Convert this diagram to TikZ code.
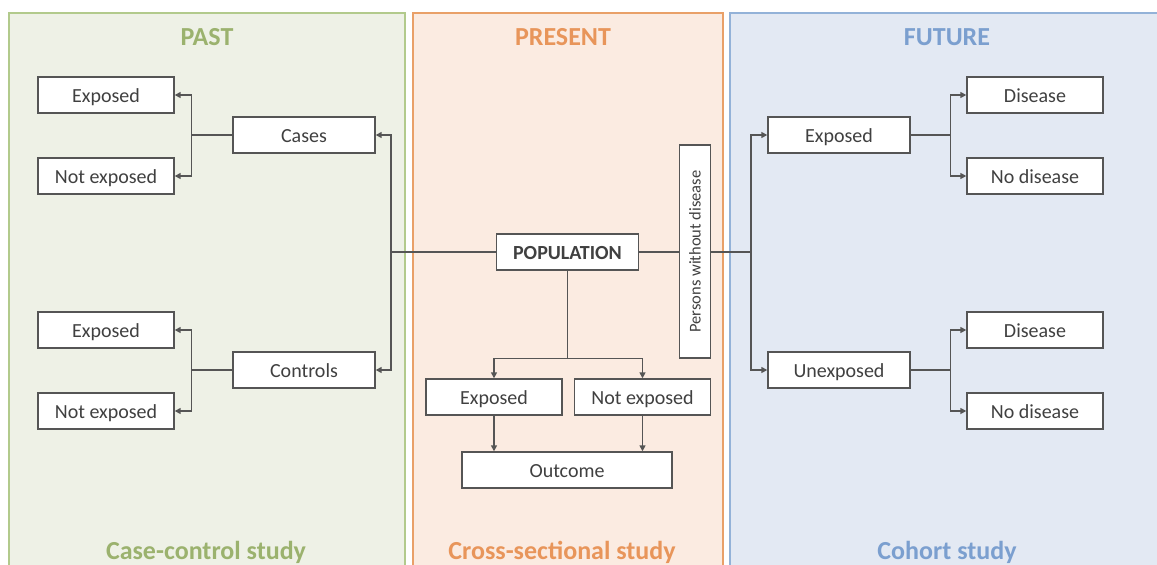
\documentclass[tikz,border=0pt]{standalone}
\usepackage{fontspec}
\setmainfont{Carlito}
\usetikzlibrary{arrows.meta,calc}
\definecolor{pastfill}{HTML}{EEF1E6}
\definecolor{pastline}{HTML}{B2CA8C}
\definecolor{pasttext}{HTML}{9BB26E}
\definecolor{presfill}{HTML}{FBEBE1}
\definecolor{presline}{HTML}{E9A068}
\definecolor{prestext}{HTML}{E8955A}
\definecolor{futfill}{HTML}{E3E9F3}
\definecolor{futline}{HTML}{93B2D8}
\definecolor{futtext}{HTML}{7B9FCF}
\definecolor{linec}{HTML}{555555}
\definecolor{textc}{HTML}{404040}
\tikzset{
  box/.style={draw=linec, fill=white, line width=1.4pt, minimum width=136pt,
    minimum height=36pt, inner sep=0pt, text height=14pt, text depth=0pt,
    font=\fontsize{20}{24}\selectfont, text=textc},
  widebox/.style={box, minimum width=142pt},
  conn/.style={draw=linec, line width=1.5pt},
  arr/.style={conn, -{Triangle[length=6pt,width=6pt]}},
  ttl/.style={font=\bfseries\fontsize{26}{30}\selectfont, anchor=base},
}
\begin{document}
\begin{tikzpicture}[x=1pt,y=-1pt]
\clip (0,0) rectangle (1157,565);
\fill[white] (0,0) rectangle (1157,565);
% panels
\draw[fill=pastfill, draw=pastline, line width=2pt] (9,13) rectangle (405,590);
\draw[fill=presfill, draw=presline, line width=2pt] (413,13) rectangle (723,590);
\draw[fill=futfill, draw=futline, line width=2pt] (730,13) rectangle (1170,590);
% titles
\node[ttl, text=pasttext] (tpast) at (207,45) {PAST};
\node[ttl, text=prestext] (tpres) at (563,45) {PRESENT};
\node[ttl, text=futtext] (tfut) at (947,45) {FUTURE};
\node[ttl, text=pasttext] (bpast) at (206,559) {Case-control study};
\node[ttl, text=prestext] (bpres) at (562,559) {Cross-sectional study};
\node[ttl, text=futtext] (bfut) at (947,559) {Cohort study};
% past boxes
\node[box] (pe1) at (106,95) {Exposed};
\node[box] (pn1) at (106,176) {Not exposed};
\node[widebox] (cases) at (304,135) {Cases};
\node[box] (pe2) at (106,330) {Exposed};
\node[box] (pn2) at (106,411) {Not exposed};
\node[widebox] (ctrl) at (304,370) {Controls};
% present boxes
\node[widebox, font=\bfseries\fontsize{20}{24}\selectfont] (pop) at (567.5,252) {POPULATION};
\node[box, rotate=90, minimum width=213pt, minimum height=31pt, text height=11pt,
  font=\fontsize{16.5}{20}\selectfont] (pers) at (695,251.5) {Persons without disease};
\node[box] (xe) at (494,397) {Exposed};
\node[box] (xn) at (642.5,397) {Not exposed};
\node[box, minimum width=210pt] (out) at (567,470) {Outcome};
% future boxes
\node[widebox] (fe) at (839,135) {Exposed};
\node[box] (fd1) at (1035,95) {Disease};
\node[box] (fn1) at (1035,176) {No disease};
\node[widebox] (fu) at (839,370) {Unexposed};
\node[box] (fd2) at (1035,330) {Disease};
\node[box] (fn2) at (1035,411) {No disease};
% past connectors
\draw[arr] (cases.west) -- ++(-41,0) |- (pe1.east);
\draw[arr] (cases.west) -- ++(-41,0) |- (pn1.east);
\draw[arr] (ctrl.west) -- ++(-41,0) |- (pe2.east);
\draw[arr] (ctrl.west) -- ++(-41,0) |- (pn2.east);
\draw[arr] (pop.west) -- ++(-105,0) |- (cases.east);
\draw[arr] (pop.west) -- ++(-105,0) |- (ctrl.east);
% present connectors
\draw[conn] (pop.east) -- (pop.east -| pers.north);
\draw[arr] (pop.south) -- ++(0,88) -| (xe.north);
\draw[arr] (pop.south) -- ++(0,88) -| (xn.north);
\draw[arr] (xe.south) -- (xe.south |- out.north);
\draw[arr] (xn.south) -- (xn.south |- out.north);
% future connectors
\draw[arr] (pop.east -| pers.south) -- ++(40,0) |- (fe.west);
\draw[arr] (pop.east -| pers.south) -- ++(40,0) |- (fu.west);
\draw[arr] (fe.east) -- ++(40,0) |- (fd1.west);
\draw[arr] (fe.east) -- ++(40,0) |- (fn1.west);
\draw[arr] (fu.east) -- ++(40,0) |- (fd2.west);
\draw[arr] (fu.east) -- ++(40,0) |- (fn2.west);
\end{tikzpicture}
\end{document}
